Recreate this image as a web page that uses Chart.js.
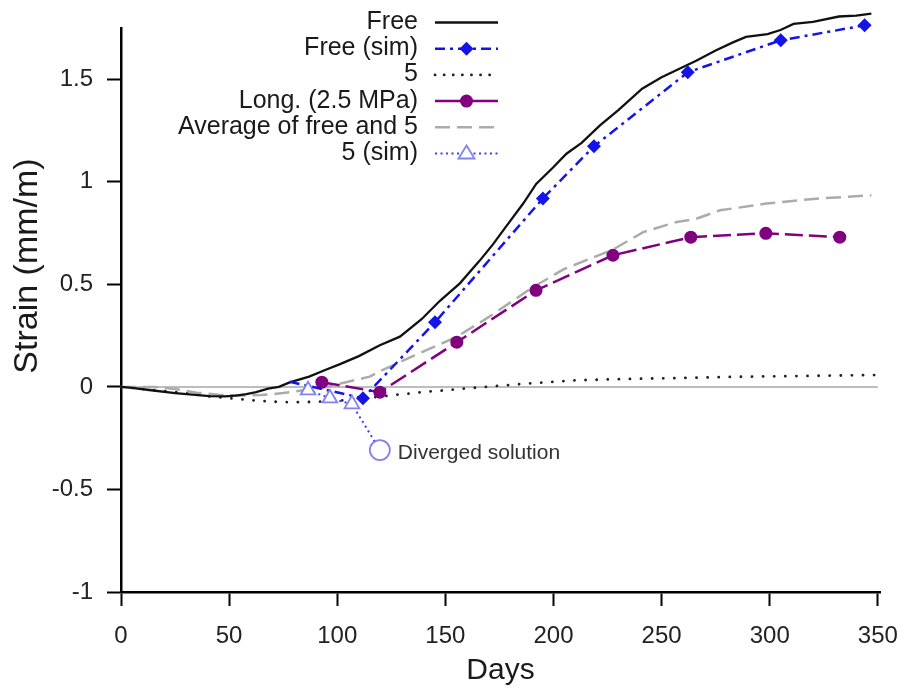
<!DOCTYPE html>
<html>
<head>
<meta charset="utf-8">
<script src="https://cdn.jsdelivr.net/npm/chart.js@4"></script>
<style>
  html, body { margin: 0; padding: 0; background: #fff; }
  #wrap { width: 898px; height: 689px; }
</style>
</head>
<body>
<div id="wrap"><canvas id="c" width="898" height="689"></canvas></div>
<script>
// Measured strain (mm/m) against age (days)
const freeDays = [0,5,13,25,33,41,48,53,58,62.5,68,73,78,87,95,101,110,119.7,129,139,147.5,156.7,166,172,178.3,186,192,199.8,206,213,221.5,230,241,250,258,266,275,283,289,299,305,311,320,332,340,347];
const freeStrain = [0,-0.005,-0.015,-0.03,-0.038,-0.045,-0.046,-0.042,-0.035,-0.025,-0.008,0.0,0.022,0.05,0.085,0.11,0.15,0.203,0.245,0.33,0.42,0.505,0.617,0.695,0.785,0.894,0.99,1.07,1.137,1.19,1.275,1.35,1.454,1.51,1.55,1.59,1.64,1.68,1.707,1.72,1.74,1.77,1.78,1.806,1.81,1.82];

const freeSimDays = [78,111.9,145.2,195.1,218.7,262.1,305.1,343.9];
const freeSimStrain = [0.025,-0.055,0.315,0.919,1.173,1.534,1.69,1.763];

const fiveDays = [0,10,20,30,40,50,60,70,80,90,100,110,124,140,166,190,212,240,258,283,320,350];
const fiveStrain = [0,-0.01,-0.02,-0.03,-0.045,-0.055,-0.065,-0.072,-0.075,-0.073,-0.068,-0.058,-0.042,-0.025,-0.002,0.018,0.033,0.04,0.043,0.049,0.054,0.058];

const longDays = [92.9,119.7,155.3,191.9,227.5,263.5,298.2,332.4];
const longStrain = [0.023,-0.026,0.218,0.471,0.642,0.73,0.749,0.73];

const avgDays = [0,15,25,35,45,55,65,75,85,95,105,115,120,135,155.2,170,190.6,205,227.6,241.5,257,266,277,298.5,321.6,347];
const avgStrain = [0,0.0,-0.01,-0.028,-0.038,-0.042,-0.04,-0.03,-0.015,0.0,0.025,0.05,0.078,0.15,0.244,0.34,0.487,0.575,0.67,0.755,0.804,0.82,0.861,0.894,0.918,0.934];

// last point of the 5 (sim) run is where the solver diverged
const fiveSimDays = [86.5,96.6,106.8,119.7];
const fiveSimStrain = [-0.016,-0.055,-0.084,-0.308];

const zeroDays = [0,350];
const zeroStrain = [0,0];

const xTicks = [0,50,100,150,200,250,300,350];
const yTicks = [-1,-0.5,0,0.5,1,1.5];

const legendLabels = ['Free','Free (sim)','5','Long. (2.5 MPa)','Average of free and 5','5 (sim)'];
const divergedText = 'Diverged solution';

const pts = (xs, ys) => xs.map((x, i) => ({ x, y: ys[i] }));
const FONT = "'Liberation Sans', Arial, sans-serif";

const C_FREE = '#111111';
const C_SIM = '#1414e8';
const C_FIVE = '#222222';
const C_LONG = '#800080';
const C_AVG = '#ababab';
const C_FIVESIM = '#3c3cf0';
const C_TRI = '#8282f0';

const datasets = [
  { label: legendLabels[5], data: pts(fiveSimDays, fiveSimStrain), order: 1,
    borderColor: C_FIVESIM, borderWidth: 2, borderDash: [2, 3.5],
    pointStyle: ['triangle','triangle','triangle','circle'],
    pointRadius: [8.5, 8.5, 8.5, 10], pointBorderWidth: 1.8,
    pointBorderColor: C_TRI, pointBackgroundColor: '#ffffff' },
  { label: legendLabels[1], data: pts(freeSimDays, freeSimStrain), order: 2,
    borderColor: C_SIM, borderWidth: 2.5, borderDash: [10, 5, 3, 5],
    pointStyle: 'rectRot', pointRadius: [0,7,7,7,7,7,7,7], pointBorderWidth: 0,
    pointBackgroundColor: C_SIM },
  { label: legendLabels[3], data: pts(longDays, longStrain), order: 3,
    borderColor: C_LONG, borderWidth: 2.5, borderDash: [18, 6],
    pointStyle: 'circle', pointRadius: 6.5, pointBorderWidth: 0,
    pointBackgroundColor: C_LONG },
  { label: legendLabels[0], data: pts(freeDays, freeStrain), order: 4,
    borderColor: C_FREE, borderWidth: 2.3, pointRadius: 0 },
  { label: legendLabels[4], data: pts(avgDays, avgStrain), order: 5,
    borderColor: C_AVG, borderWidth: 2.5, borderDash: [15, 7], pointRadius: 0 },
  { label: legendLabels[2], data: pts(fiveDays, fiveStrain), order: 6,
    borderColor: C_FIVE, borderWidth: 2.8, borderDash: [0.1, 11], borderCapStyle: 'round', pointRadius: 0 },
  { label: 'zero', data: pts(zeroDays, zeroStrain), order: 7,
    borderColor: '#bdbdbd', borderWidth: 2, pointRadius: 0 }
];

// key drawn at the top of the plot: text right-aligned, line sample to its right
const keyPlugin = {
  id: 'key',
  afterDraw(chart) {
    const ctx = chart.ctx;
    const textRight = 418, x0 = 435, x1 = 498, xm = (x0 + x1) / 2;
    const base0 = 29, step = 26.2;
    const styles = [
      { color: C_FREE, dash: [], w: 2.3 },
      { color: C_SIM, dash: [10, 5, 3, 5], w: 2.5, marker: 'diamond' },
      { color: C_FIVE, dash: [0.1, 9], w: 2.8, cap: 'round' },
      { color: C_LONG, dash: [], w: 2.5, marker: 'dot' },
      { color: C_AVG, dash: [15, 7], w: 2.5 },
      { color: C_FIVESIM, dash: [2, 3.5], w: 2, marker: 'tri' }
    ];
    ctx.save();
    ctx.font = '25px ' + FONT;
    ctx.textAlign = 'right';
    ctx.textBaseline = 'alphabetic';
    legendLabels.forEach((t, i) => {
      const yb = base0 + step * i;
      const yl = yb - 6.5;
      ctx.fillStyle = '#1a1a1a';
      ctx.fillText(t, textRight, yb);
      const s = styles[i];
      ctx.beginPath();
      ctx.setLineDash(s.dash);
      ctx.lineCap = s.cap || 'butt';
      ctx.strokeStyle = s.color;
      ctx.lineWidth = s.w;
      ctx.moveTo(x0, yl); ctx.lineTo(x1, yl);
      ctx.stroke();
      ctx.setLineDash([]);
      ctx.lineCap = 'butt';
      if (s.marker === 'diamond') {
        ctx.fillStyle = C_SIM;
        ctx.beginPath();
        ctx.moveTo(xm, yl - 7); ctx.lineTo(xm + 7, yl); ctx.lineTo(xm, yl + 7); ctx.lineTo(xm - 7, yl);
        ctx.closePath(); ctx.fill();
      } else if (s.marker === 'dot') {
        ctx.fillStyle = C_LONG;
        ctx.beginPath(); ctx.arc(xm, yl, 6.5, 0, Math.PI * 2); ctx.fill();
      } else if (s.marker === 'tri') {
        ctx.fillStyle = '#fff';
        ctx.strokeStyle = C_TRI;
        ctx.lineWidth = 1.8;
        ctx.beginPath();
        ctx.moveTo(xm, yl - 8); ctx.lineTo(xm + 8, yl + 5); ctx.lineTo(xm - 8, yl + 5);
        ctx.closePath(); ctx.fill(); ctx.stroke();
      }
    });
    ctx.restore();
  }
};

// y-axis title and the note beside the diverged point
const notesPlugin = {
  id: 'notes',
  afterDraw(chart) {
    const ctx = chart.ctx;
    ctx.save();
    ctx.fillStyle = '#1a1a1a';
    ctx.font = '34px ' + FONT;
    ctx.textAlign = 'center';
    ctx.textBaseline = 'middle';
    ctx.translate(28, 266);
    ctx.rotate(-Math.PI / 2);
    ctx.fillText('Strain (mm/m)', 0, 0);
    ctx.restore();

    const meta = chart.getDatasetMeta(0);
    const last = meta.data[meta.data.length - 1];
    ctx.save();
    ctx.fillStyle = '#333';
    ctx.font = '21px ' + FONT;
    ctx.textAlign = 'left';
    ctx.textBaseline = 'middle';
    ctx.fillText(divergedText, last.x + 18, last.y + 3);
    ctx.restore();
  }
};

const noPad = s => { s.paddingLeft = 0; s.paddingRight = 0; s.paddingTop = 0; s.paddingBottom = 0; };

new Chart(document.getElementById('c'), {
  type: 'line',
  data: { datasets },
  plugins: [keyPlugin, notesPlugin],
  options: {
    responsive: false,
    devicePixelRatio: 1,
    animation: false,
    events: [],
    layout: { padding: { top: 28, right: 18, left: 0, bottom: 0 } },
    datasets: { line: { clip: false, tension: 0, fill: false } },
    plugins: { legend: { display: false }, tooltip: { enabled: false } },
    scales: {
      x: {
        type: 'linear', min: 0, max: 351,
        afterFit: s => { s.height = 97; noPad(s); },
        afterBuildTicks: s => { s.ticks = xTicks.map(v => ({ value: v })); },
        ticks: { color: '#222', font: { size: 24, family: FONT }, padding: 16, maxRotation: 0,
                 callback: v => String(v) },
        grid: { drawOnChartArea: false, drawTicks: true, tickLength: 14, tickColor: '#000', tickWidth: 2 },
        border: { display: true, color: '#000', width: 2.5 },
        title: { display: true, text: 'Days', color: '#1a1a1a', font: { size: 30, family: FONT },
                 padding: { top: 0, bottom: 0 } }
      },
      y: {
        type: 'linear', min: -1, max: 1.75,
        afterFit: s => { s.width = 121; noPad(s); },
        afterBuildTicks: s => { s.ticks = yTicks.map(v => ({ value: v })); },
        ticks: { color: '#222', font: { size: 24, family: FONT }, padding: 14,
                 callback: v => String(v) },
        grid: { drawOnChartArea: false, drawTicks: true, tickLength: 14, tickColor: '#000', tickWidth: 2 },
        border: { display: true, color: '#000', width: 2.5 }
      }
    }
  }
});
</script>
</body>
</html>
